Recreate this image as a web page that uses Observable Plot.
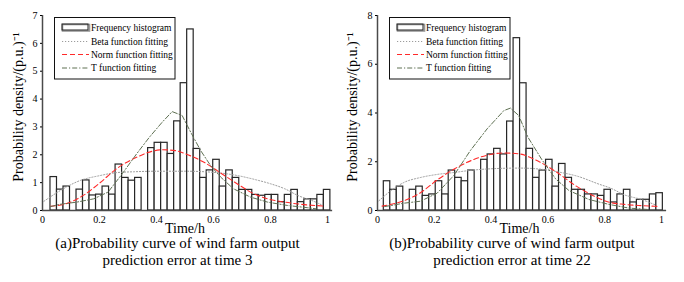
<!DOCTYPE html>
<html><head><meta charset="utf-8">
<script src="https://cdn.jsdelivr.net/npm/d3@7"></script>
<script src="https://cdn.jsdelivr.net/npm/@observablehq/plot@0.6"></script>
<style>
body{margin:0;background:#fff;font-family:"Liberation Serif",serif;}
#wrap{display:flex;width:684px;height:282px;overflow:hidden;}
.panel{width:342px;position:relative;}
.cap{font-size:15px;text-align:center;line-height:17px;color:#000;margin-top:-1px;white-space:nowrap;}
.legend{position:absolute;top:17px;}
svg text{font-family:"Liberation Serif",serif !important;}
</style></head><body><div id="wrap"></div><script>
// ---------- data ----------
const xTicks = [0, 0.2, 0.4, 0.6, 0.8, 1];
const leftYTicks = [0, 1, 2, 3, 4, 5, 6, 7];
const rightYTicks = [0, 2, 4, 6, 8];

// histogram (43 bins per panel)
const leftBinStart = 0.028, leftBinWidth = 0.02284;
const leftHist = [1.2, 0.75, 0.86, 0, 0.75, 1.08, 0.54, 0.57, 0.86, 0.57, 1.65, 1.17, 1.07, 1.17, 0,
  2.24, 2.43, 2.43, 2.03, 3.2, 4.57, 6.5, 2.21, 1.17, 1.44, 1.82, 0.86, 1.44, 1.17, 0.74, 0.74,
  0.56, 0.53, 0.56, 0.56, 0.3, 0.56, 0.74, 0.3, 0.4, 0.4, 0.56, 0.74];
const rightBinStart = 0.0222, rightBinWidth = 0.02285;
const rightHist = [1.2, 0.85, 0.98, 0, 0.85, 0.98, 0.6, 0.66, 1.2, 0.66, 1.64, 1.34, 1.2, 1.64, 0,
  2.08, 2.3, 2.53, 2.3, 3.65, 7.07, 5.22, 2.53, 1.34, 1.64, 2.08, 0.98, 1.91, 1.34, 0.85, 0.85,
  0.66, 0.66, 0.6, 0.85, 0.33, 0.66, 0.85, 0.33, 0.44, 0.44, 0.66, 0.71];

// fitted curves, left panel
const leftBetaX = [0.005, 0.063, 0.133, 0.2, 0.26, 0.32, 0.4, 0.5, 0.6, 0.67, 0.75, 0.8, 0.85, 0.9, 0.94, 0.98];
const leftBetaY = [0.33, 0.72, 1.08, 1.25, 1.36, 1.39, 1.41, 1.41, 1.37, 1.28, 1.1, 0.96, 0.78, 0.52, 0.38, 0.2];
const leftNormX = [0.028, 0.087, 0.146, 0.2, 0.26, 0.33, 0.386, 0.42, 0.466, 0.51, 0.56, 0.62, 0.68, 0.73, 0.79, 0.85, 0.91, 0.99];
const leftNormY = [0.15, 0.26, 0.56, 0.98, 1.5, 1.91, 2.13, 2.18, 2.15, 2.0, 1.77, 1.38, 0.98, 0.66, 0.42, 0.3, 0.22, 0.16];
const leftTX = [0.028, 0.06, 0.12, 0.18, 0.23, 0.28, 0.33, 0.375, 0.42, 0.455, 0.49, 0.52, 0.555, 0.59, 0.625, 0.67, 0.73, 0.79, 0.86, 0.93, 0.96];
const leftTY = [0.14, 0.22, 0.3, 0.42, 0.66, 1.32, 2.03, 2.63, 3.17, 3.55, 3.41, 2.81, 2.15, 1.61, 1.2, 0.78, 0.48, 0.3, 0.18, 0.1, 0.06];

// fitted curves, right panel
const rightBetaX = [0.005, 0.046, 0.093, 0.15, 0.21, 0.27, 0.33, 0.44, 0.5, 0.57, 0.65, 0.7, 0.78, 0.82, 0.87, 0.93, 0.98];
const rightBetaY = [0.4, 0.8, 1.15, 1.35, 1.48, 1.56, 1.65, 1.73, 1.74, 1.7, 1.55, 1.42, 1.08, 0.92, 0.64, 0.45, 0.22];
const rightNormX = [0.016, 0.093, 0.15, 0.21, 0.27, 0.33, 0.39, 0.445, 0.5, 0.556, 0.627, 0.7, 0.77, 0.81, 0.87, 0.93, 0.985];
const rightNormY = [0.18, 0.4, 0.72, 1.25, 1.7, 2.05, 2.28, 2.36, 2.32, 2.08, 1.6, 1.0, 0.55, 0.36, 0.25, 0.2, 0.17];
const rightTX = [0.025, 0.093, 0.151, 0.21, 0.269, 0.327, 0.386, 0.445, 0.468, 0.497, 0.53, 0.578, 0.627, 0.674, 0.745, 0.815, 0.885, 0.955];
const rightTY = [0.16, 0.3, 0.38, 0.71, 1.44, 2.46, 3.35, 4.1, 4.2, 3.9, 3.0, 2.1, 1.3, 0.82, 0.45, 0.25, 0.1, 0.04];

const legendLabels = ["Frequency histogram", "Beta function fitting", "Norm function fitting", "T function fitting"];
const yLabel = "Probability density/(p.u.)\u207B\u00B9";
const xLabel = "Time/h";
const leftCaption = ["(a)Probability curve of wind farm output", "prediction error at time 3"];
const rightCaption = ["(b)Probability curve of wind farm output", "prediction error at time 22"];

// ---------- styles ----------
const C = {beta: "#9c9c9c", norm: "#ff2a2a", t: "#5e7052", bar: "#262626", axis: "#4a4a4a"};
const DASH = {beta: "1.2,1.8", norm: "5,3", t: "5,2,1.2,2"};
const FONT = "'Liberation Serif', serif";

function zip(xs, ys) { return xs.map((x, i) => ({x, y: ys[i]})); }
const fmt = d => String(d);

function panel(cfg) {
  const bins = cfg.hist.map((h, i) => ({x1: cfg.bs + i * cfg.bw, x2: cfg.bs + (i + 1) * cfg.bw, h})).filter(d => d.h > 0);
  const div = document.createElement("div");
  div.className = "panel";
  const plot = Plot.plot({
    width: 342, height: 236,
    marginLeft: cfg.ml, marginRight: cfg.mr, marginTop: 15, marginBottom: 26,
    style: {fontFamily: FONT, background: "transparent", overflow: "visible", color: "#000"},
    x: {domain: [0, 1]},
    y: {domain: [0, cfg.ymax]},
    marks: [
      Plot.rect(bins, {x1: "x1", x2: "x2", y1: 0, y2: "h", fill: "white", stroke: C.bar, strokeWidth: 1.2}),
      Plot.line(zip(cfg.betaX, cfg.betaY), {x: "x", y: "y", stroke: C.beta, strokeWidth: 1, strokeDasharray: DASH.beta, curve: "monotone-x"}),
      Plot.line(zip(cfg.normX, cfg.normY), {x: "x", y: "y", stroke: C.norm, strokeWidth: 1.1, strokeDasharray: DASH.norm, curve: "monotone-x"}),
      Plot.line(zip(cfg.tX, cfg.tY), {x: "x", y: "y", stroke: C.t, strokeWidth: 1, strokeDasharray: DASH.t}),
      Plot.ruleX([0], {y1: 0, y2: cfg.ymax, stroke: C.axis, strokeWidth: 1.5}),
      Plot.ruleY([0], {x1: 0, x2: 1.018, stroke: C.axis, strokeWidth: 1.5}),
      Plot.axisX({ticks: xTicks, tickFormat: fmt, tickSize: 0, tickPadding: 5, fontSize: 10, fontFamily: FONT, label: null}),
      Plot.axisY({ticks: cfg.yTicks, tickFormat: fmt, tickSize: 2, tickPadding: 3, fontSize: 10, fontFamily: FONT, label: null}),
      Plot.text([yLabel], {text: d => d, frameAnchor: "left", textAnchor: "middle", lineAnchor: "middle", rotate: -90, dx: cfg.ydx, dy: -6, fontSize: 14, fontFamily: FONT}),
      Plot.text([xLabel], {text: d => d, frameAnchor: "bottom", lineAnchor: "middle", dy: 18, fontSize: 14, fontFamily: FONT})
    ]
  });
  div.appendChild(plot);

  // legend overlay
  const lx = cfg.ml + 12;
  const ns = "http://www.w3.org/2000/svg";
  const lg = document.createElementNS(ns, "svg");
  lg.setAttribute("class", "legend");
  lg.setAttribute("width", 122); lg.setAttribute("height", 63);
  lg.style.left = lx + "px";
  const rowsY = [10.5, 24.5, 37.5, 51];
  let html = `<rect x="0.5" y="0.5" width="120.5" height="61.5" fill="white" stroke="#111" stroke-width="1"/>`;
  html += `<rect x="8.5" y="7.5" width="27" height="6.5" fill="white" stroke="#999" stroke-width="1.6"/>`;
  html += `<rect x="8" y="7" width="26" height="6" fill="none" stroke="#222" stroke-width="1"/>`;
  html += `<line x1="8" x2="35" y1="${rowsY[1]}" y2="${rowsY[1]}" stroke="${C.beta}" stroke-dasharray="${DASH.beta}"/>`;
  html += `<line x1="8" x2="35" y1="${rowsY[2]}" y2="${rowsY[2]}" stroke="${C.norm}" stroke-width="1.1" stroke-dasharray="${DASH.norm}"/>`;
  html += `<line x1="8" x2="35" y1="${rowsY[3]}" y2="${rowsY[3]}" stroke="${C.t}" stroke-dasharray="${DASH.t}"/>`;
  legendLabels.forEach((t, i) => {
    html += `<text x="37" y="${rowsY[i]}" dy="0.35em" font-size="9.5" fill="#000">${t}</text>`;
  });
  lg.innerHTML = html;
  div.appendChild(lg);

  const cap = document.createElement("div");
  cap.className = "cap";
  cap.style.paddingLeft = (cfg.ml - 14) + "px";
  cap.style.paddingRight = (cfg.mr) + "px";
  cap.innerHTML = cfg.caption.join("<br>");
  div.appendChild(cap);
  return div;
}

const wrap = document.getElementById("wrap");
wrap.appendChild(panel({ml: 42, mr: 15, ymax: 7, yTicks: leftYTicks, hist: leftHist, bs: leftBinStart, bw: leftBinWidth,
  betaX: leftBetaX, betaY: leftBetaY, normX: leftNormX, normY: leftNormY, tX: leftTX, tY: leftTY, ydx: -24, caption: leftCaption}));
wrap.appendChild(panel({ml: 35, mr: 23, ymax: 8, yTicks: rightYTicks, hist: rightHist, bs: rightBinStart, bw: rightBinWidth,
  betaX: rightBetaX, betaY: rightBetaY, normX: rightNormX, normY: rightNormY, tX: rightTX, tY: rightTY, ydx: -25, caption: rightCaption}));
</script></body></html>
